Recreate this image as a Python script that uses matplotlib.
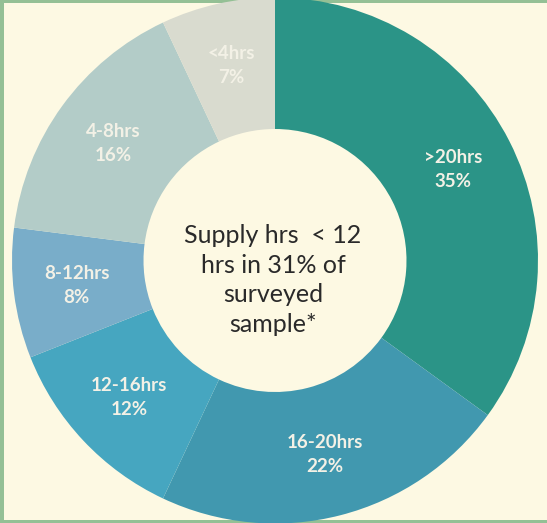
import matplotlib
matplotlib.use("Agg")
import matplotlib.pyplot as plt
import numpy as np

# supply hours distribution (share of surveyed sample)
categories = [">20hrs", "16-20hrs", "12-16hrs", "8-12hrs", "4-8hrs", "<4hrs"]
shares = [35, 22, 12, 8, 16, 7]
colors = ["#2b9487", "#4198af", "#46a6c0", "#79adc9", "#b3ccc8", "#d9dbcf"]
center_note = "Supply hrs  < 12\nhrs in 31% of\nsurveyed\nsample*"

W, H = 547, 523
cream = "#fdf9e3"
border = "#94c095"

fig = plt.figure(figsize=(W / 100, H / 100), dpi=100, facecolor=border)
ax = fig.add_axes([4 / W, 3 / H, (W - 2) / W, (H - 6) / H])

# work in pixel units, y up
cx, cy, R = 275, H - 260.5, 263
wedges, _ = ax.pie(shares, colors=colors, startangle=90, counterclock=False,
                   center=(cx, cy), radius=R,
                   wedgeprops=dict(width=R * 0.5, linewidth=0))

ax.set_frame_on(True)
for s in ax.spines.values():
    s.set_visible(False)
ax.patch.set_facecolor(cream)
ax.set_aspect("auto")
ax.set_xlim(4, W + 2)
ax.set_ylim(3, H - 3)
ax.set_xticks([])
ax.set_yticks([])

for w, name, pct in zip(wedges, categories, shares):
    ang = np.deg2rad((w.theta1 + w.theta2) / 2)
    x = cx + 0.76 * R * np.cos(ang)
    y = cy + 0.76 * R * np.sin(ang)
    ax.text(x, y, f"{name}\n{pct}%", ha="center", va="center",
            fontsize=13.5, fontweight="bold", family="Lato",
            color="#f3f1e6", linespacing=1.5)

ax.text(273, H - 280, center_note, ha="center", va="center",
        fontsize=18, family="Lato", color="#2a2a2a", linespacing=1.35)

fig.savefig("out.png", dpi=100, facecolor=border)
